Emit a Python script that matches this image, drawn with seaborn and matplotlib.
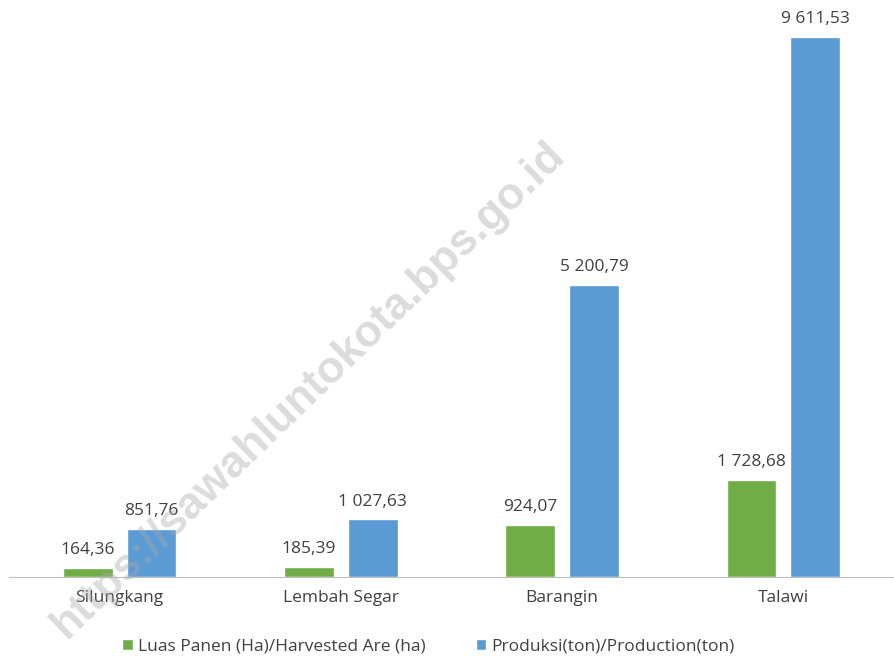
import pandas as pd
import seaborn as sns
import matplotlib.pyplot as plt

# data
kecamatan = ["Silungkang", "Lembah Segar", "Barangin", "Talawi"]
luas_panen = [164.36, 185.39, 924.07, 1728.68]
produksi = [851.76, 1027.63, 5200.79, 9611.53]
series_names = ["Luas Panen (Ha)/Harvested Are (ha)", "Produksi(ton)/Production(ton)"]
colors = ["#70AD47", "#5B9BD5"]

df = pd.DataFrame({
    "kecamatan": kecamatan * 2,
    "nilai": luas_panen + produksi,
    "seri": [series_names[0]] * len(kecamatan) + [series_names[1]] * len(kecamatan),
})

def fmt_id(v):
    # 9611.53 -> "9 611,53"
    s = f"{v:,.2f}"
    return s.replace(",", " ").replace(".", ",")

sns.set_style("white")
plt.rcParams['font.family'] = ['Open Sans', 'DejaVu Sans']

fig = plt.figure(figsize=(8.94, 6.61), dpi=100)
ax = fig.add_axes([0.01, 0.127, 0.99, 0.85])

sns.barplot(data=df, x="kecamatan", y="nilai", hue="seri", palette=colors,
            width=0.577, gap=0.22, saturation=1, ax=ax)

for cont in ax.containers:
    ax.bar_label(cont, labels=[fmt_id(v) for v in cont.datavalues],
                 padding=7, fontsize=12.5, color="#404040")

ax.set_xlim(-0.5, 3.5)
ax.set_ylim(0, 10000)
ax.set_xlabel("")
ax.set_ylabel("")
ax.set_yticks([])
for side in ["top", "left", "right"]:
    ax.spines[side].set_visible(False)
ax.spines["bottom"].set_color("#bfbfbf")
ax.tick_params(axis="x", length=0, pad=9, labelsize=12.5, labelcolor="#404040")

ax.legend(loc="upper center", bbox_to_anchor=(0.474, -0.082), ncol=2, frameon=False,
          fontsize=12.5, handlelength=0.6, handleheight=0.6, handletextpad=0.3,
          columnspacing=2.9, labelcolor="#404040")

# faint watermark
fig.text(0.345, 0.41, "https://sawahluntokota.bps.go.id", rotation=44,
         ha="center", va="center", fontsize=32, fontweight="bold",
         family="Liberation Sans", color="#a8a8a8", alpha=0.4)

fig.savefig("out.png", dpi=100)
